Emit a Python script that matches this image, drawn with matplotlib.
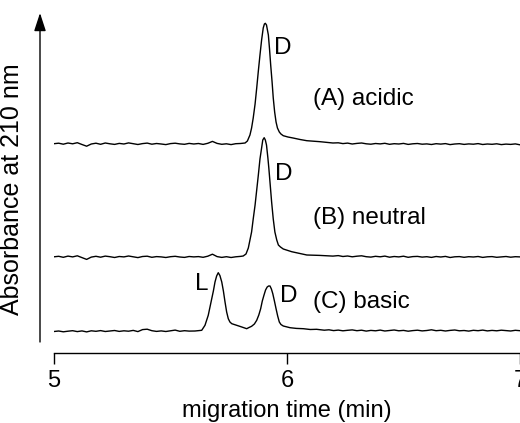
import numpy as np
import matplotlib.pyplot as plt

plt.rcParams['font.family'] = ['Liberation Sans', 'DejaVu Sans']

# trace A (acidic): migration time (min) and absorbance above baseline (a.u.)
tA = [5.00, 5.02, 5.04, 5.06, 5.08, 5.10, 5.12, 5.14, 5.16, 5.18,
      5.20, 5.22, 5.24, 5.26, 5.28, 5.30, 5.32, 5.34, 5.36, 5.38,
      5.40, 5.42, 5.44, 5.46, 5.48, 5.50, 5.52, 5.54, 5.56, 5.58,
      5.60, 5.62, 5.64, 5.66, 5.68, 5.70, 5.72, 5.74, 5.76, 5.78,
      5.80, 5.820, 5.830, 5.841, 5.848, 5.855, 5.863, 5.870, 5.877, 5.884,
      5.891, 5.898, 5.903, 5.907, 5.912, 5.916, 5.920, 5.925, 5.930, 5.936,
      5.941, 5.947, 5.953, 5.959, 5.967, 5.974, 5.984, 6.004, 6.026, 6.056,
      6.085, 6.142, 6.197, 6.22, 6.24, 6.26, 6.28, 6.30, 6.32, 6.34,
      6.36, 6.38, 6.40, 6.42, 6.44, 6.46, 6.48, 6.50, 6.52, 6.54,
      6.56, 6.58, 6.60, 6.62, 6.64, 6.66, 6.68, 6.70, 6.72, 6.74,
      6.76, 6.78, 6.80, 6.82, 6.84, 6.86, 6.88, 6.90, 6.92, 6.94,
      6.96, 6.98, 7.00]
yA = [0.3, 0.8, -0.2, 1.0, 0.2, 1.3, -0.5, -2.2, 0.0, 0.8,
      -0.3, 1.0, 0.2, -0.4, 0.6, 0.0, 1.1, 0.3, -0.5, 0.4,
      0.9, -0.2, 0.5, 0.0, -0.6, 0.4, 0.8, 0.1, -0.3, 0.6,
      0.0, 0.5, -0.4, 0.7, 2.6, 0.6, -0.3, 0.2, -0.6, 0.3,
      0.5, 1.0, 3.0, 9.0, 16.0, 26.0, 40.0, 56.0, 73.0, 89.0,
      104.0, 116.0, 120.0, 120.7, 119.0, 114.0, 109.0, 95.0, 79.0, 62.0,
      46.0, 32.0, 22.0, 16.0, 12.0, 10.0, 8.3, 7.0, 6.0, 4.5,
      3.3, 2.3, 1.0, 1.2, 0.4, 0.9, 0.0, 0.6, 1.0, 0.2,
      -0.2, 0.5, 0.1, 0.7, -0.3, 0.3, 0.0, 0.6, -0.4, 0.2,
      0.5, -0.2, 0.1, -0.5, 0.3, -0.1, 0.4, -0.6, 0.0, 0.3,
      -0.4, 0.1, -0.2, 0.4, -0.5, 0.0, -0.3, 0.2, -0.6, -0.1,
      -0.4, 0.1, -0.8]

# trace B (neutral)
tB = [5.00, 5.02, 5.04, 5.06, 5.08, 5.10, 5.12, 5.14, 5.16, 5.18,
      5.20, 5.22, 5.24, 5.26, 5.28, 5.30, 5.32, 5.34, 5.36, 5.38,
      5.40, 5.42, 5.44, 5.46, 5.48, 5.50, 5.52, 5.54, 5.56, 5.58,
      5.60, 5.62, 5.64, 5.66, 5.68, 5.70, 5.72, 5.74, 5.76, 5.78,
      5.80, 5.812, 5.824, 5.834, 5.841, 5.848, 5.855, 5.863, 5.870, 5.877,
      5.884, 5.891, 5.896, 5.902, 5.907, 5.912, 5.918, 5.922, 5.928, 5.934,
      5.941, 5.948, 5.956, 5.963, 5.972, 5.984, 6.020, 6.085, 6.14, 6.197,
      6.22, 6.24, 6.26, 6.28, 6.30, 6.32, 6.34, 6.36, 6.38, 6.40,
      6.42, 6.44, 6.46, 6.48, 6.50, 6.52, 6.54, 6.56, 6.58, 6.60,
      6.62, 6.64, 6.66, 6.68, 6.70, 6.72, 6.74, 6.76, 6.78, 6.80,
      6.82, 6.84, 6.86, 6.88, 6.90, 6.92, 6.94, 6.96, 6.98, 7.00]
yB = [0.2, 0.7, -0.3, 0.9, 0.1, 1.2, -0.6, -2.4, -0.1, 0.7,
      -0.2, 0.9, 0.3, -0.5, 0.5, 0.1, 1.0, 0.2, -0.6, 0.5,
      0.8, -0.3, 0.4, 0.1, -0.5, 0.3, 0.7, 0.0, -0.4, 0.5,
      0.1, 0.4, -0.3, 0.8, 2.8, 0.4, -0.4, 0.3, -0.5, 0.2,
      0.6, 1.0, 3.0, 9.0, 17.0, 25.0, 38.0, 52.0, 67.0, 82.0,
      98.0, 109.0, 117.0, 119.3, 117.0, 112.0, 99.0, 89.0, 72.0, 55.0,
      38.0, 25.0, 17.0, 12.0, 10.0, 8.0, 5.3, 2.0, 1.6, 0.9,
      1.4, 0.5, 1.0, 0.2, 0.8, 1.2, 0.3, -0.1, 0.7, 0.2,
      0.9, -0.2, 0.5, 0.1, 0.8, -0.3, 0.4, 0.6, -0.1, 0.3,
      -0.4, 0.5, 0.0, 0.6, -0.5, 0.2, 0.4, -0.3, 0.3, 0.0,
      0.5, -0.4, 0.2, 0.4, -0.3, 0.1, 0.5, -0.2, 0.3, 0.1]

# trace C (basic)
tC = [5.00, 5.02, 5.04, 5.06, 5.08, 5.10, 5.12, 5.14, 5.16, 5.18,
      5.20, 5.22, 5.24, 5.26, 5.28, 5.30, 5.32, 5.34, 5.36, 5.38,
      5.40, 5.42, 5.44, 5.46, 5.48, 5.50, 5.52, 5.54, 5.56, 5.58,
      5.605, 5.634, 5.648, 5.662, 5.677, 5.684, 5.691, 5.698, 5.705, 5.712,
      5.720, 5.727, 5.734, 5.741, 5.748, 5.755, 5.763, 5.784, 5.806, 5.827,
      5.837, 5.848, 5.860, 5.870, 5.879, 5.887, 5.894, 5.901, 5.908, 5.915,
      5.921, 5.927, 5.933, 5.939, 5.946, 5.953, 5.960, 5.967, 5.974, 5.984,
      6.013, 6.04, 6.070, 6.10, 6.127, 6.16, 6.18, 6.20, 6.22, 6.24,
      6.26, 6.28, 6.30, 6.32, 6.34, 6.36, 6.38, 6.40, 6.42, 6.44,
      6.46, 6.48, 6.50, 6.52, 6.54, 6.56, 6.58, 6.60, 6.62, 6.64,
      6.66, 6.68, 6.70, 6.72, 6.74, 6.76, 6.78, 6.80, 6.82, 6.84,
      6.86, 6.88, 6.90, 6.92, 6.94, 6.96, 6.98, 7.00]
yC = [-0.5, 0.0, -0.8, -0.2, 0.3, -0.6, 0.1, -0.9, 0.2, -0.3,
      0.4, -0.5, 0.0, 0.5, -0.4, 0.2, -0.2, 0.6, -0.6, 1.4,
      1.8, 0.3, -0.4, 0.1, -0.5, 0.2, 0.9, -0.3, 0.3, -0.1,
      0.0, 0.7, 5.7, 15.7, 32.3, 40.0, 49.0, 55.0, 58.3, 55.5,
      49.0, 40.0, 29.0, 19.0, 12.3, 9.0, 7.3, 5.7, 4.0, 2.3,
      3.5, 4.7, 7.0, 10.7, 16.0, 22.3, 30.0, 35.7, 41.0, 44.0,
      45.0, 45.0, 42.0, 37.3, 30.0, 22.3, 15.0, 9.0, 6.5, 5.0,
      3.3, 2.6, 2.3, 1.5, 1.7, 0.8, 1.2, 0.4, 0.9, 0.2,
      0.7, 1.1, 0.3, 0.8, -0.1, 0.6, 0.2, 0.9, 0.0, 0.5,
      1.0, 0.2, 0.6, -0.2, 0.4, 0.8, 0.1, 0.5, 1.2, 0.3,
      0.7, 0.0, 0.6, 1.0, 0.2, 0.5, -0.1, 0.7, 0.3, 0.9,
      0.1, 0.6, 0.2, 0.8, 0.4, 0.0, 0.7, 0.3]

offsets = [209, 96, 22]
labels = ['(A) acidic', '(B) neutral', '(C) basic']

fig = plt.figure(figsize=(5.2, 4.23), dpi=100)
ax = fig.add_axes([54/520, 70/423, 466/520, 343/423])

for t, y, off in zip([tA, tB, tC], [yA, yB, yC], offsets):
    ax.plot(t, np.array(y) + off, color='black', linewidth=1.0)

ax.set_xlim(5, 7)
ax.set_ylim(0, 343)
ax.set_xticks([5, 6, 7])
ax.tick_params(axis='x', direction='out', length=8, width=1, pad=4,
               labelsize=17)
ax.set_yticks([])
for s in ['top', 'right', 'left']:
    ax.spines[s].set_visible(False)
ax.spines['bottom'].set_linewidth(1)
ax.set_xlabel('migration time (min)', fontsize=17, labelpad=6)

# labels for the traces and peaks
ax.text(6.112, 254, labels[0], fontsize=17.5, va='center', ha='left')
ax.text(6.112, 135, labels[1], fontsize=17.5, va='center', ha='left')
ax.text(6.112, 51, labels[2], fontsize=17.5, va='center', ha='left')
ax.text(5.981, 304.5, 'D', fontsize=17.5, va='center', ha='center')
ax.text(5.985, 179.5, 'D', fontsize=17.5, va='center', ha='center')
ax.text(6.009, 57, 'D', fontsize=17.5, va='center', ha='center')
ax.text(5.634, 69.5, 'L', fontsize=17.5, va='center', ha='center')

# y axis as an arrow
ax.annotate('', xy=(40, 410), xytext=(40, 81), xycoords='figure pixels',
            textcoords='figure pixels',
            arrowprops=dict(arrowstyle='-|>,head_length=1.1,head_width=0.36',
                            color='black', lw=1, mutation_scale=10,
                            shrinkA=0, shrinkB=0))
fig.text(12/520, 1 - 189/423, 'Absorbance at 210 nm', rotation=90,
         fontsize=18, va='center', ha='center')

fig.savefig('out.png', dpi=100)
